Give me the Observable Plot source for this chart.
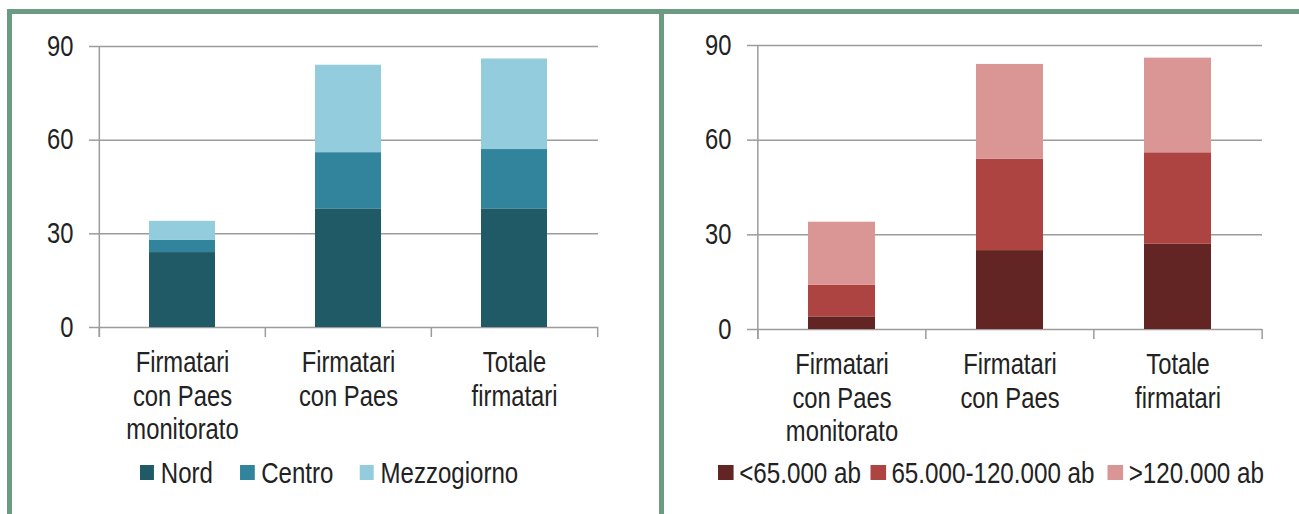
<!DOCTYPE html>
<html>
<head>
<meta charset="utf-8">
<script src="https://cdn.jsdelivr.net/npm/d3@7"></script>
<script src="https://cdn.jsdelivr.net/npm/@observablehq/plot@0.6"></script>
<style>
  html, body { margin: 0; padding: 0; background: #ffffff; }
  #page { position: relative; width: 1299px; height: 514px; overflow: hidden; background: #ffffff;
          font-family: "Liberation Sans", Arial, sans-serif; color: #222; }
  .chart { position: absolute; top: 0; }
  .border { position: absolute; background: #6b9b83; z-index: 5; }
  .legend { position: absolute; top: 458px; height: 29px; display: flex; align-items: center;
            line-height: 29px; white-space: nowrap; color: #222;
            transform: scaleX(0.82); transform-origin: 0 50%; }
  .legend .item { display: flex; align-items: center; }
  .legend .sw { display: inline-block; }
</style>
</head>
<body>
<div id="page">
  <div class="border" style="left:7px; top:9px; width:1292px; height:5px;"></div>
  <div class="border" style="left:7px; top:9px; width:5px; height:505px;"></div>
  <div class="border" style="left:659px; top:9px; width:5px; height:505px;"></div>
  <div id="left" class="chart" style="left:0px;"></div>
  <div id="right" class="chart" style="left:660px;"></div>
  <div id="legendLeft" class="legend" style="left:140px;"></div>
  <div id="legendRight" class="legend" style="left:718px;"></div>
</div>
<script>
// ---- data ----
const categories = ["Firmatari con Paes monitorato", "Firmatari con Paes", "Totale firmatari"];
const tickLabels = ["Firmatari\ncon Paes\nmonitorato", "Firmatari\ncon Paes", "Totale\nfirmatari"];
const yTicks = [0, 30, 60, 90];

const regionSeries = ["Nord", "Centro", "Mezzogiorno"];
const regionColors = ["#215a67", "#31849b", "#93cddd"];
const nord = [24, 38, 38];
const centro = [4, 18, 19];
const mezzogiorno = [6, 28, 29];

const sizeSeries = ["<65.000 ab", "65.000-120.000 ab", ">120.000 ab"];
const sizeColors = ["#632523", "#ae4442", "#d99694"];
const small = [4, 25, 27];
const medium = [10, 29, 29];
const large = [20, 30, 30];

// ---- styles ----
const GRID = "#9c9c9c";
const TEXT = "#222222";
const FONT = '"Liberation Sans", Arial, sans-serif';
const NARROW = 0.82; // Arial Narrow is Arial at 82% width

function makeChart({series, colors, values, width, height, marginLeft, marginRight, marginTop, marginBottom}) {
  const rows = [];
  series.forEach((s, si) => categories.forEach((c, ci) => rows.push({cat: c, series: s, value: values[si][ci]})));
  const step = (width - marginLeft - marginRight) / categories.length;
  return Plot.plot({
    width, height, marginLeft, marginRight, marginTop, marginBottom,
    style: {fontFamily: FONT, fontSize: "29px", color: TEXT, background: "transparent", overflow: "visible"},
    x: {domain: categories, paddingInner: 0.6, paddingOuter: 0.3, label: null},
    y: {domain: [0, 90], label: null},
    color: {domain: series, range: colors},
    marks: [
      Plot.gridY(yTicks, {stroke: GRID, strokeOpacity: 1, strokeWidth: 1.5}),
      Plot.axisY(yTicks, {tickSize: 10, tickPadding: 16, stroke: GRID, strokeWidth: 1.5, fill: TEXT, fontSize: 29, label: null}),
      Plot.ruleX([categories[0]], {dx: -step / 2, insetBottom: -10, stroke: GRID, strokeWidth: 1.5}),
      Plot.axisX(categories, {tickSize: 10, dx: -step / 2, fill: "none", stroke: GRID, strokeWidth: 1.5, label: null}),
      Plot.axisX([categories[categories.length - 1]], {tickSize: 10, dx: step / 2, fill: "none", stroke: GRID, strokeWidth: 1.5, label: null}),
      Plot.barY(rows, {x: "cat", y: "value", fill: "series"}),
      Plot.axisX(categories, {tickSize: 0, tickPadding: 21, fill: TEXT, fontSize: 29, lineHeight: 1.15, label: null,
        tickFormat: d => tickLabels[categories.indexOf(d)]})
    ]
  });
}

// condense every text horizontally around its anchor point (emulates Arial Narrow)
function condense(svg) {
  svg.querySelectorAll("text").forEach(t => {
    const g = document.createElementNS("http://www.w3.org/2000/svg", "g");
    t.parentNode.insertBefore(g, t);
    g.appendChild(t);
    const b = g.getBBox();
    const anchor = getComputedStyle(t).textAnchor;
    const ax = anchor === "end" ? b.x + b.width : anchor === "middle" ? b.x + b.width / 2 : b.x;
    g.setAttribute("transform", `translate(${ax},0) scale(${NARROW},1) translate(${-ax},0)`);
  });
}

// legend: gaps are given in screen pixels; the container is condensed by NARROW
function makeLegend(el, series, colors, opts) {
  el.style.fontSize = opts.fontSize + "px";
  series.forEach((s, i) => {
    const item = document.createElement("div");
    item.className = "item";
    if (i < series.length - 1) item.style.marginRight = (opts.itemGaps[i] / NARROW) + "px";
    const sw = document.createElement("span");
    sw.className = "sw";
    sw.style.background = colors[i];
    sw.style.width = (opts.swW / NARROW) + "px";
    sw.style.height = opts.swH + "px";
    sw.style.marginRight = (opts.swGap / NARROW) + "px";
    const t = document.createElement("span");
    t.textContent = s;
    item.appendChild(sw);
    item.appendChild(t);
    el.appendChild(item);
  });
}

const leftSvg = makeChart({
  series: regionSeries, colors: regionColors, values: [nord, centro, mezzogiorno],
  width: 640, height: 460, marginLeft: 99, marginRight: 42, marginTop: 46, marginBottom: 133
});
document.getElementById("left").appendChild(leftSvg);
condense(leftSvg);

const rightSvg = makeChart({
  series: sizeSeries, colors: sizeColors, values: [small, medium, large],
  width: 639, height: 460, marginLeft: 97, marginRight: 37, marginTop: 45, marginBottom: 131
});
document.getElementById("right").appendChild(rightSvg);
condense(rightSvg);

makeLegend(document.getElementById("legendLeft"), regionSeries, regionColors,
  {fontSize: 29.3, swW: 14.3, swH: 14.3, swGap: 6.5, itemGaps: [27.5, 26.5]});
makeLegend(document.getElementById("legendRight"), sizeSeries, sizeColors,
  {fontSize: 29.5, swW: 15.7, swH: 14.3, swGap: 5.5, itemGaps: [9.3, 13]});
</script>
</body>
</html>
